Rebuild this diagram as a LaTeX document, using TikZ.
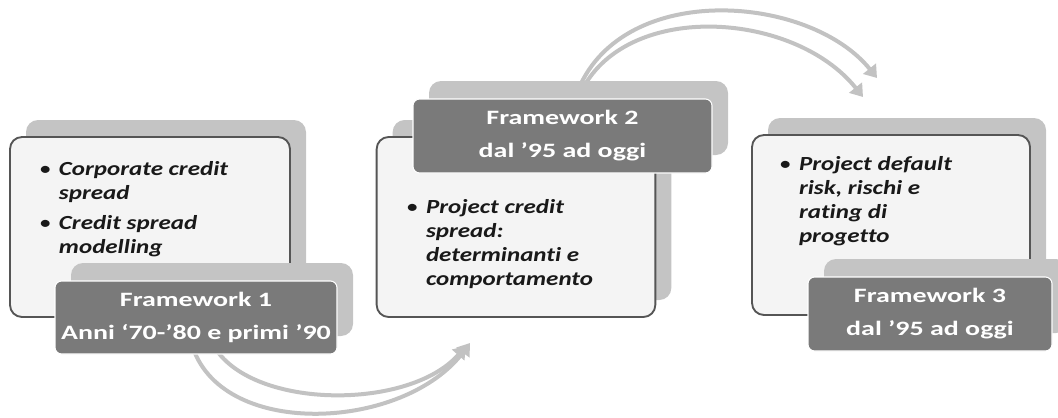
\documentclass[tikz,border=0pt]{standalone}
\usepackage{fontspec}
\setmainfont{Carlito}[FakeStretch=1.37, Ligatures=NoCommon]
\newfontfamily\notesfont{Carlito}[FakeStretch=1.25, Ligatures=NoCommon]
\usetikzlibrary{arrows.meta,backgrounds,calc}

\definecolor{panelfill}{HTML}{F4F4F4}
\definecolor{paneledge}{HTML}{555555}
\definecolor{backingfill}{HTML}{C4C4C4}
\definecolor{tagfill}{HTML}{7A7A7A}
\definecolor{flowgray}{HTML}{C2C2C2}

\tikzset{
  panel/.style={draw=paneledge, line width=1.4pt, fill=panelfill,
    rounded corners=9pt, inner sep=0pt, outer sep=0pt},
  backing/.style={fill=backingfill, rounded corners=9pt, inner sep=0pt, outer sep=0pt},
  tag/.style={draw=white, line width=0.8pt, fill=tagfill, rounded corners=5pt,
    text=white, align=center, inner sep=0pt, outer sep=0pt,
    font=\fontsize{15.3}{24.75}\selectfont\bfseries},
  notes/.style={anchor=north west, inner sep=0pt, outer sep=0pt,
    font=\notesfont\fontsize{15}{18}\selectfont\bfseries\itshape, text=black!90},
  flowline/.style={draw=flowgray, line width=3pt,
    -{Triangle[width=12pt,length=9pt]}},
}

\newcommand{\notelist}[1]{\begin{tabular}{@{}p{15pt}@{}l@{}}#1\end{tabular}}
\newcommand{\dotmark}{{\mdseries\upshape\textbullet}}

\begin{document}
\begin{tikzpicture}[x=0.75pt,y=-0.75pt]
\clip (0,0) rectangle (1058,418);

% ---- stage 1
\node[backing, minimum width=210pt, minimum height=135pt] (back1) at (166,210) {};
\node[panel, minimum width=210pt, minimum height=135pt] (panel1) at (150,227) {};
\node[notes] (notes1) at (39,159) {\notelist{
  \dotmark & Corporate credit\\
           & spread\\[4.5pt]
  \dotmark & Credit spread\\
           & modelling}};
\node[backing, minimum width=211.5pt, minimum height=54.75pt] (tagback1) at (212,299.5) {};
\node[tag, minimum width=211.5pt, minimum height=54.75pt] (tag1) at (196,317.5)
  {Framework 1\\Anni ‘70-’80 e primi ’90};

% ---- stage 2
\node[backing, minimum width=209pt, minimum height=135pt] (back2) at (532,210) {};
\node[panel, minimum width=209pt, minimum height=135pt] (panel2) at (516,227) {};
\node[notes] (notes2) at (406,197) {\notelist{
  \dotmark & Project credit\\
           & spread:\\
           & determinanti e\\
           & comportamento}};
\node[backing, minimum width=224.25pt, minimum height=55.5pt] (tagback2) at (578.5,118) {};
\node[tag, minimum width=224.25pt, minimum height=55.5pt] (tag2) at (562.5,136)
  {Framework 2\\dal ’95 ad oggi};

% ---- stage 3
\node[backing, minimum width=208.5pt, minimum height=135pt] (back3) at (907,208) {};
\node[panel, minimum width=208.5pt, minimum height=135pt] (panel3) at (891,225) {};
\node[notes] (notes3) at (779,154) {\notelist{
  \dotmark & Project default\\
           & risk, rischi e\\
           & rating di\\
           & progetto}};
\node[backing, minimum width=183pt, minimum height=55.5pt] (tagback3) at (946,296) {};
\node[tag, minimum width=183pt, minimum height=55.5pt] (tag3) at (930,314)
  {Framework 3\\dal ’95 ad oggi};

% ---- curved flow arrows, behind the panels
\coordinate (into2) at (470,343);
\coordinate (into3outer) at (877,78);
\coordinate (into3inner) at (863,97);
\begin{pgfonlayer}{background}
  \draw[flowline] ($(tag1.south)+(-3,-6)$) .. controls (225,440) and (405,430) .. (into2);
  \draw[flowline] ($(tag1.south)+(19,-6)$) .. controls (255,410) and (410,410) .. ($(into2)+(-4,3)$);
  \draw[flowline] ($(tagback2.north)+(0,8)$) .. controls (625,-20) and (810,-5) .. (into3outer);
  \draw[flowline] ($(tagback2.north)+(4,8)$) .. controls (630,0) and (795,12) .. (into3inner);
\end{pgfonlayer}
\end{tikzpicture}
\end{document}
